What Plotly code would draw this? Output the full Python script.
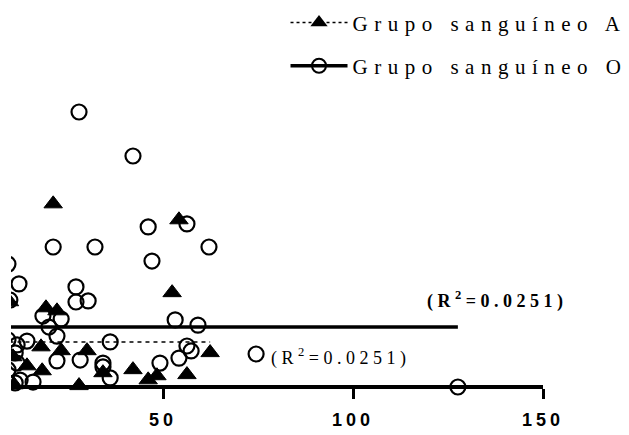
import plotly.graph_objects as go

# ---- data ----
o_x = [27.9, 42.1, 46.1, 56.3, 21.1, 32.1, 62.1, 47.1, 9.2, 12.1, 27.1, 27.1, 30.3, 9.7,
       18.4, 23.2, 20.0, 22.1, 53.2, 59.2, 14.2, 36.1, 22.1, 28.2, 34.2, 34.2, 36.1, 49.2,
       54.2, 56.3, 57.4, 15.8, 11.6, 11.1, 11.6, 12.4, 11.1, 74.5, 127.6, 9.2, 9.2]
o_y = [100.0, 84.0, 58.2, 59.3, 50.9, 50.9, 50.9, 45.8, 44.7, 37.5, 36.4, 30.9, 31.3, 31.6,
       25.8, 24.7, 21.8, 18.5, 24.4, 22.5, 16.7, 16.4, 9.5, 9.8, 8.7, 7.3, 3.3, 8.7,
       10.5, 14.9, 13.1, 1.8, 15.3, 12.4, 8.7, 2.5, 1.5, 12.0, 0.0, 17.1, 6.2]

a_x = [21.1, 54.2, 52.4, 19.2, 22.1, 17.9, 23.2, 30.0, 14.2, 18.2, 34.2, 42.1, 46.1,
       48.4, 56.3, 62.4, 27.9, 9.6, 10.5, 10.8]
a_y = [66.6, 60.8, 34.3, 28.8, 27.7, 14.6, 13.2, 13.2, 7.7, 5.9, 5.2, 6.3, 2.6,
       4.1, 4.5, 12.5, 0.5, 31.0, 11.0, 0.8]

fit_o_x = [9.2, 127.6]
fit_o_y = [21.8, 21.8]
fit_a_x = [9.6, 62.4]
fit_a_y = [16.4, 16.4]

x_ticks = [50, 100, 150]
x_range = [10, 150]
y_range = [-4.73, 104.36]

name_a = "Grupo sanguíneo A"
name_o = "Grupo sanguíneo O"
r2_o = "0.0251"
r2_a = "0.0251"

SERIF = "Liberation Serif"


def spaced(t, px):
    return f"<span style='letter-spacing:{px}px'>{t}</span>"


fig = go.Figure()

# regression lines
fig.add_trace(go.Scatter(x=fit_o_x, y=fit_o_y, mode="lines",
                         line=dict(color="black", width=3.5), showlegend=False,
                         hoverinfo="skip"))
fig.add_trace(go.Scatter(x=fit_a_x, y=fit_a_y, mode="lines",
                         line=dict(color="black", width=1.5, dash="4px,4px"),
                         showlegend=False, hoverinfo="skip"))

# data points
fig.add_trace(go.Scatter(x=o_x, y=o_y, mode="markers", showlegend=False,
                         marker=dict(symbol="circle-open", size=15, color="black",
                                     line=dict(width=2.2, color="black"))))
fig.add_trace(go.Scatter(x=a_x, y=a_y, mode="markers", showlegend=False,
                         marker=dict(symbol="triangle-up", size=16, color="black",
                                     line=dict(width=1, color="black"))))

# legend entries
fig.add_trace(go.Scatter(x=[None], y=[None], mode="lines+markers", legend="legend",
                         name=spaced(name_a, 6.5),
                         line=dict(color="black", width=1.5, dash="3px,3px"),
                         marker=dict(symbol="triangle-up", size=15, color="black")))
fig.add_trace(go.Scatter(x=[None], y=[None], mode="lines+markers", legend="legend2",
                         name=spaced(name_o, 6.5),
                         line=dict(color="black", width=3.5),
                         marker=dict(symbol="circle-open", size=14, color="black",
                                     line=dict(width=2, color="black"))))

fig.update_layout(
    width=629, height=435,
    margin=dict(l=11, r=86, t=100, b=35, pad=0, autoexpand=False),
    paper_bgcolor="white", plot_bgcolor="white",
    xaxis=dict(range=x_range, anchor="free", position=13 / 300,
               showgrid=False, zeroline=False, showline=True,
               linecolor="black", linewidth=3.5,
               ticks="outside", ticklen=10, tickwidth=3, tickcolor="black",
               tickvals=x_ticks,
               ticktext=[spaced(str(v), 4) for v in x_ticks],
               tickfont=dict(family="Liberation Sans", size=18, color="black",
                             weight="bold"),
               ticklabelstandoff=6, automargin=False),
    yaxis=dict(range=y_range, visible=False, domain=[0, 1]),
    legend=dict(x=0.516, y=1.257, xanchor="left", yanchor="middle",
                font=dict(family=SERIF, size=21, color="black"),
                itemwidth=57, bgcolor="rgba(0,0,0,0)"),
    legend2=dict(x=0.516, y=1.113, xanchor="left", yanchor="middle",
                 font=dict(family=SERIF, size=21, color="black"),
                 itemwidth=57, bgcolor="rgba(0,0,0,0)"),
    annotations=[
        dict(xref="paper", yref="paper", x=0.778, y=0.333, xanchor="left",
             yanchor="middle", showarrow=False,
             text="<b>" + spaced("(R<sup>2</sup>=" + r2_o + ")", 4.5) + "</b>",
             font=dict(family=SERIF, size=18, color="black")),
        dict(xref="paper", yref="paper", x=0.485, y=0.143, xanchor="left",
             yanchor="middle", showarrow=False,
             text=spaced("(R<sup>2</sup>=" + r2_a + ")", 4.5),
             font=dict(family=SERIF, size=18, color="black")),
    ],
)

fig.write_html("out.html", config={"displayModeBar": False},
               post_script="document.body.style.margin='0px';document.body.style.overflow='hidden';")
